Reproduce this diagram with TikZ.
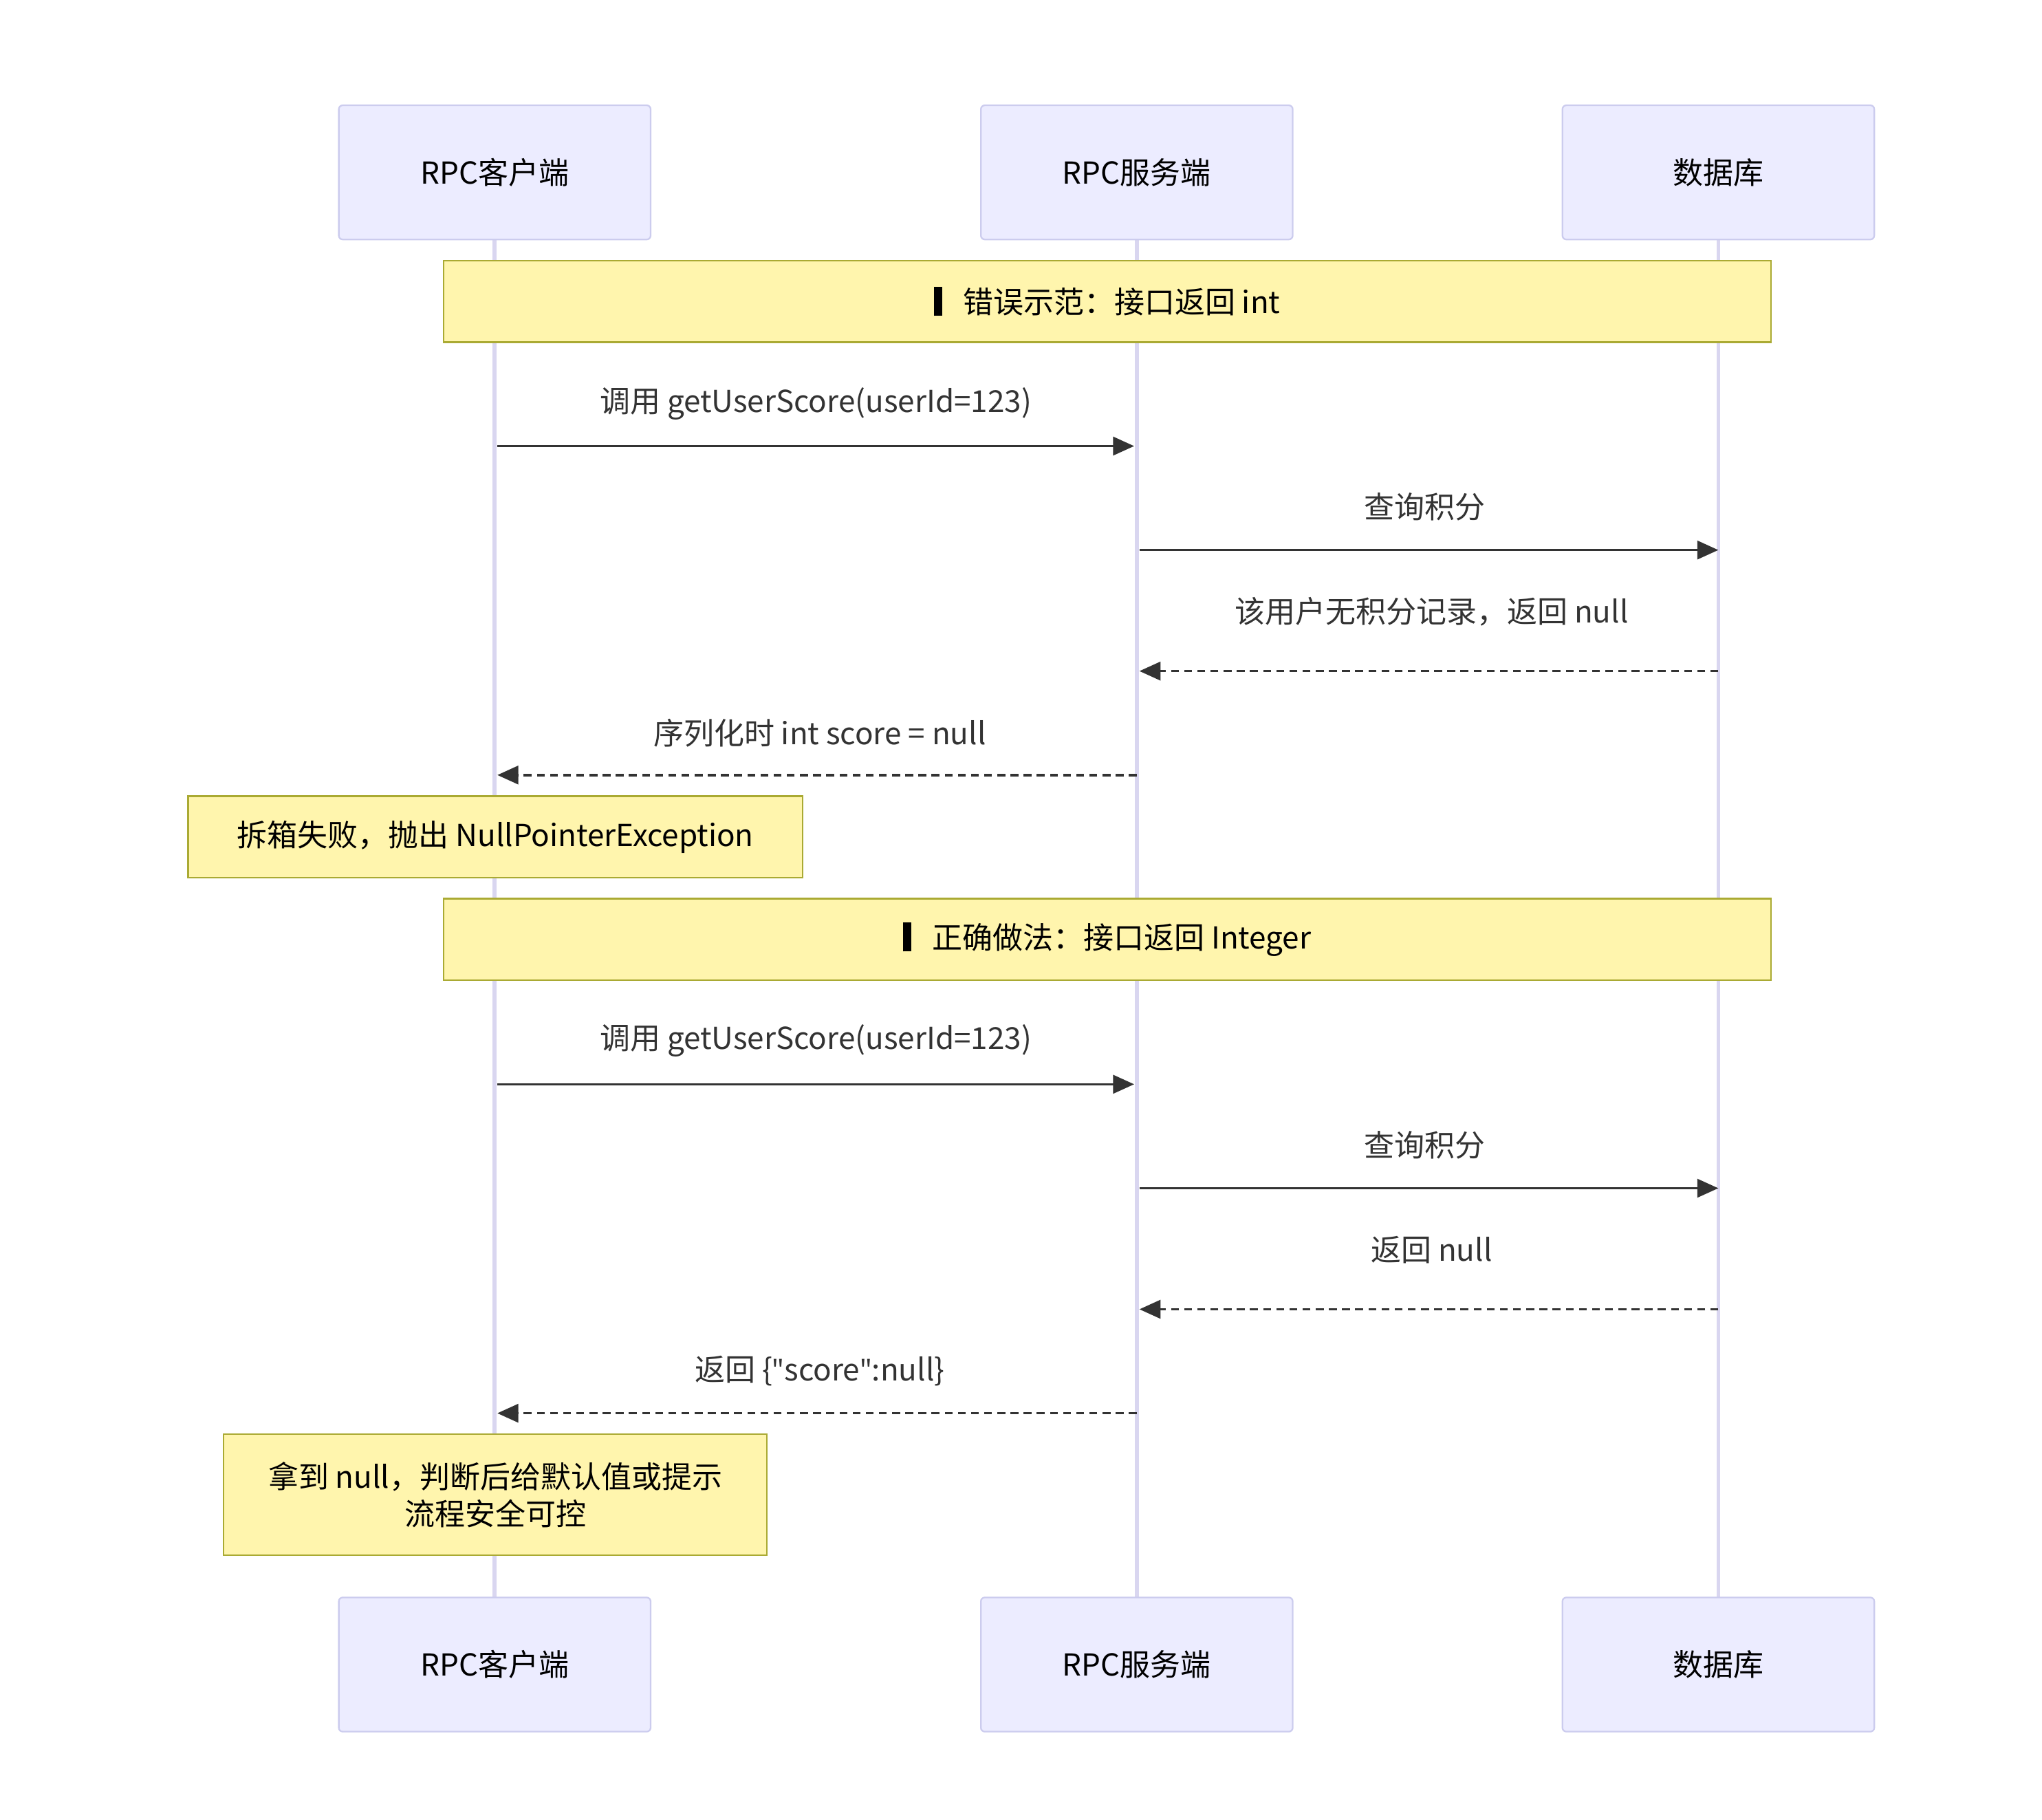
\documentclass[tikz,border=0pt]{standalone}
\usepackage{fontspec}
\setmainfont{Noto Sans CJK SC}
\newfontfamily\latq{Open Sans}
\usetikzlibrary{arrows.meta}
\definecolor{actfill}{HTML}{ECECFF}
\definecolor{actdraw}{HTML}{CCCCEE}
\definecolor{life}{HTML}{D9D6F0}
\definecolor{notefill}{HTML}{FFF5AD}
\definecolor{notedraw}{HTML}{AAAA33}
\definecolor{ink}{HTML}{333333}
\begin{document}
\begin{tikzpicture}[x=0.5pt,y=-0.5pt,
  actor/.style={draw=actdraw,fill=actfill,line width=0.6pt,rounded corners=1.5pt,minimum width=118.5pt,minimum height=51pt,font=\fontsize{11.5}{13}\selectfont,text=black},
  note/.style={draw=notedraw,fill=notefill,line width=0.6pt,font=\fontsize{11.5}{14}\selectfont,text=black,align=center,inner sep=0pt},
  lab/.style={font=\fontsize{11.5}{13}\selectfont,text=ink},
  msg/.style={draw=ink,line width=0.9pt,-{Triangle[length=8pt,width=7pt]}},
  ret/.style={msg,dash pattern=on 3pt off 2pt}]
\useasboundingbox (0,0) rectangle (1552,1383);
\foreach \n/\x/\t in {a/376/RPC客户端,b/864/RPC服务端,c/1306/数据库}{
  \draw[life,line width=1.5pt] (\x,182) -- (\x,1214);
  \node[actor] (\n top) at (\x,131) {\t};
  \node[actor] (\n bot) at (\x,1265) {\t};
}
\node[note,minimum width=504.5pt,minimum height=31pt] (s1) at (841.5,229) {\rule[-1pt]{3pt}{11pt}\hspace{8pt}错误示范：接口返回 int};
\node[note,minimum width=504.5pt,minimum height=31pt] (s2) at (841.5,714) {\rule[-1pt]{3pt}{11pt}\hspace{8pt}正确做法：接口返回 Integer};
\node[note,minimum width=233.5pt,minimum height=31pt] (n1) at (376.5,636) {拆箱失败，抛出 NullPointerException};
\node[note,minimum width=206.5pt,minimum height=46pt] (n2) at (376.5,1136) {拿到 null，判断后给默认值或提示\\流程安全可控};
\foreach \y [count=\i] in {339,418,510,589,824,903,995,1074}{
  \coordinate (a\i) at (378,\y); \coordinate (b\i) at (864,\y);
  \coordinate (bl\i) at (866,\y); \coordinate (br\i) at (862,\y); \coordinate (c\i) at (1306,\y);
}
\draw[msg] (a1) -- (br1); \node[lab] (l1) at (620,307) {调用 getUserScore(userId=123)};
\draw[msg] (bl2) -- (c2); \node[lab] (l2) at (1083,385) {查询积分};
\draw[ret] (c3) -- (bl3); \node[lab] (l3) at (1088,465) {该用户无积分记录，返回 null};
\draw[ret] (b4) -- (a4); \node[lab] (l4) at (623,557) {序列化时 int score = null};
\draw[msg] (a5) -- (br5); \node[lab] (l5) at (620,791) {调用 getUserScore(userId=123)};
\draw[msg] (bl6) -- (c6); \node[lab] (l6) at (1083,870) {查询积分};
\draw[ret] (c7) -- (bl7); \node[lab] (l7) at (1088,950) {返回 null};
\draw[ret] (b8) -- (a8); \node[lab] (l8) at (623,1042) {返回 \{{\latq"}score{\latq"}:null\}};
\end{tikzpicture}
\end{document}
